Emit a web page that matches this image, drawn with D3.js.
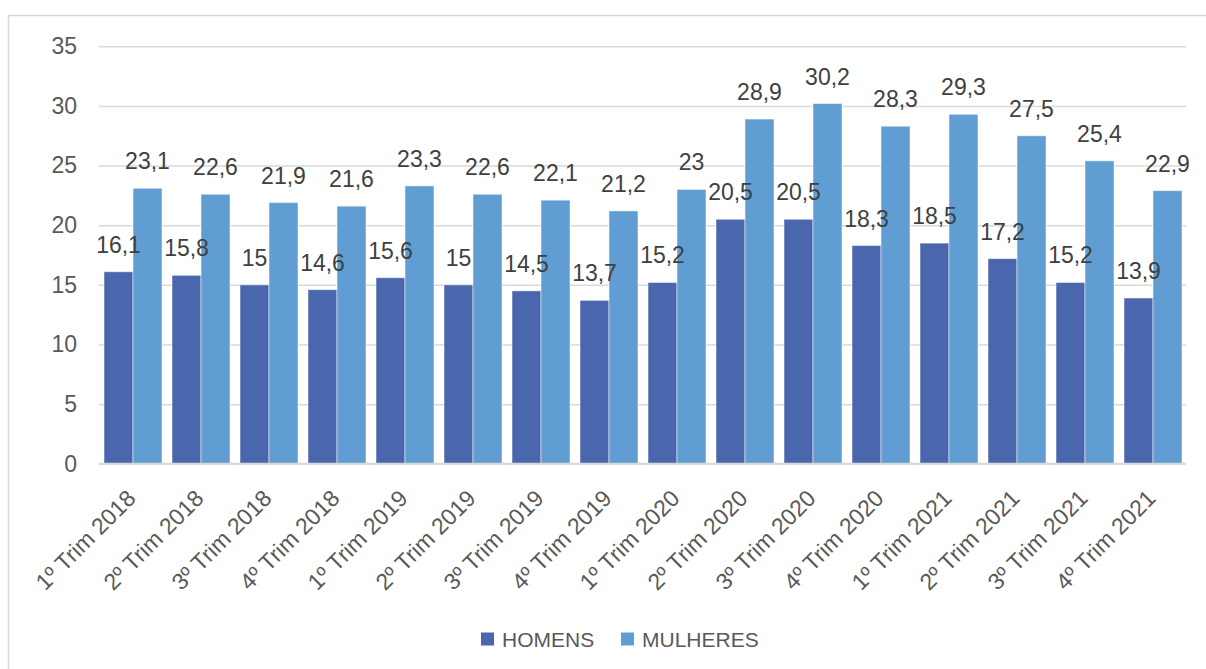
<!DOCTYPE html>
<html>
<head>
<meta charset="utf-8">
<script src="https://cdn.jsdelivr.net/npm/d3@7"></script>
<style>
  html, body { margin: 0; padding: 0; background: #fff; }
  svg { display: block; }
</style>
</head>
<body>
<svg id="chart" width="1206" height="669"></svg>
<script>
const categories = ["1º Trim 2018","2º Trim 2018","3º Trim 2018","4º Trim 2018",
  "1º Trim 2019","2º Trim 2019","3º Trim 2019","4º Trim 2019",
  "1º Trim 2020","2º Trim 2020","3º Trim 2020","4º Trim 2020",
  "1º Trim 2021","2º Trim 2021","3º Trim 2021","4º Trim 2021"];
const homens = [16.1, 15.8, 15, 14.6, 15.6, 15, 14.5, 13.7, 15.2, 20.5, 20.5, 18.3, 18.5, 17.2, 15.2, 13.9];
const mulheres = [23.1, 22.6, 21.9, 21.6, 23.3, 22.6, 22.1, 21.2, 23, 28.9, 30.2, 28.3, 29.3, 27.5, 25.4, 22.9];
const seriesNames = ["HOMENS", "MULHERES"];
const yTicks = [0, 5, 10, 15, 20, 25, 30, 35];

const colors = ["#4A66AC", "#5F9DD3"];
const font = "'Liberation Sans', Arial, sans-serif";

const svg = d3.select("#chart");

// chart border
svg.append("path")
  .attr("d", "M8.5,669 L8.5,15.5 L1206,15.5")
  .attr("fill", "none").attr("stroke", "#D9D9D9").attr("stroke-width", 1.5);

const x0 = d3.scaleBand().domain(categories).range([99, 1187])
  .paddingInner(10/68).paddingOuter(5/68);
const x1 = d3.scaleBand().domain(seriesNames).range([0, x0.bandwidth()]);
const y = d3.scaleLinear().domain([0, 35]).range([463.8, 46.3]);

// gridlines
const yAxis = d3.axisLeft(y).tickValues(yTicks).tickSize(-(1186 - 99)).tickFormat(d => d).tickPadding(22);
const gy = svg.append("g").attr("transform", "translate(99,0)").call(yAxis);
gy.select(".domain").remove();
gy.selectAll(".tick line").attr("stroke", "#D9D9D9").attr("stroke-width", 1.5);
gy.selectAll(".tick text").attr("fill", "#595959").style("font-family", font).style("font-size", "23px");

// bars
const data = categories.map((c, i) => ({ c, vals: [homens[i], mulheres[i]] }));
const groups = svg.append("g").selectAll("g").data(data).join("g")
  .attr("transform", d => `translate(${x0(d.c)},0)`);

groups.selectAll("rect").data(d => d.vals.map((v, k) => ({ v, k })))
  .join("rect")
  .attr("x", d => x1(seriesNames[d.k]))
  .attr("y", d => y(d.v))
  .attr("width", x1.bandwidth())
  .attr("height", d => y(0) - y(d.v))
  .attr("fill", d => colors[d.k])
  .attr("stroke", "rgba(255,255,255,0.5)")
  .attr("stroke-width", 1);

const fmt = v => String(v).replace(".", ",");
groups.selectAll("text").data(d => d.vals.map((v, k) => ({ v, k })))
  .join("text")
  .attr("x", d => x1(seriesNames[d.k]) + x1.bandwidth() / 2)
  .attr("y", d => y(d.v) - 19)
  .attr("text-anchor", "middle")
  .attr("fill", "#404040")
  .style("font-family", font).style("font-size", "23px")
  .text(d => fmt(d.v));

// baseline
svg.append("line").attr("x1", 99).attr("x2", 1186).attr("y1", y(0)).attr("y2", y(0))
  .attr("stroke", "#D9D9D9").attr("stroke-width", 2);

// x labels
const xAxis = d3.axisBottom(x0).tickSize(0).tickPadding(0);
const gx = svg.append("g").attr("transform", `translate(0,${y(0)})`).call(xAxis);
gx.select(".domain").remove();
gx.selectAll(".tick text")
  .attr("fill", "#595959")
  .style("font-family", font).style("font-size", "23px")
  .attr("text-anchor", "end")
  .attr("dy", null)
  .attr("y", null)
  .attr("transform", "translate(4,36) rotate(-45)");

// legend
const legendItems = [{ name: seriesNames[0], x: 481, color: colors[0] }, { name: seriesNames[1], x: 621, color: colors[1] }];
const lg = svg.append("g");
legendItems.forEach(it => {
  lg.append("rect").attr("x", it.x).attr("y", 632.5).attr("width", 13).attr("height", 13).attr("fill", it.color);
  lg.append("text").attr("x", it.x + 21).attr("y", 646.5)
    .attr("fill", "#595959").style("font-family", font).style("font-size", "21px")
    .text(it.name);
});
</script>
</body>
</html>
